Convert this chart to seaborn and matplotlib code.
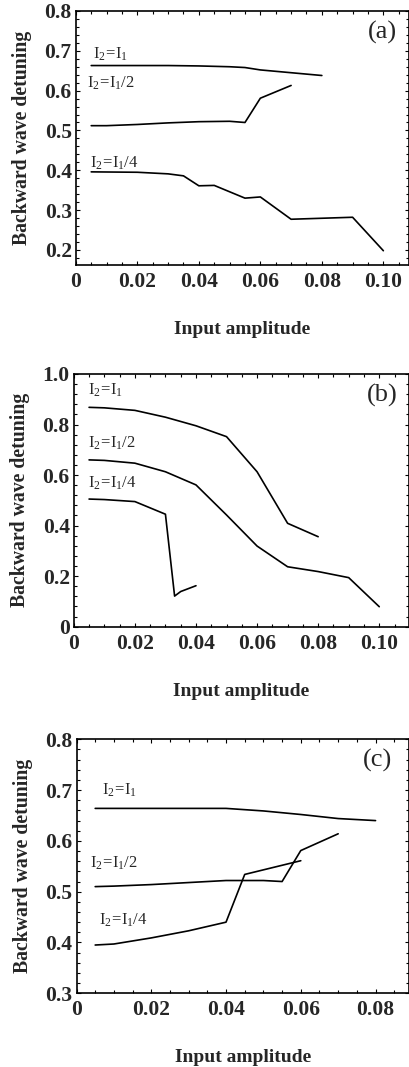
import numpy as np
import pandas as pd
import matplotlib
matplotlib.use("Agg")
import matplotlib.pyplot as plt
from matplotlib.ticker import MultipleLocator
import seaborn as sns

sns.set_style("ticks")
plt.rcParams['font.family'] = ['Liberation Serif', 'DejaVu Serif']
plt.rcParams['mathtext.fontset'] = 'custom'
plt.rcParams['mathtext.rm'] = 'Liberation Serif'
plt.rcParams['mathtext.it'] = 'Liberation Serif:italic'

# ---------------- data ----------------
# panel (a)
a_x1 = [0.005, 0.01, 0.02, 0.03, 0.04, 0.05, 0.055, 0.06, 0.07, 0.08]
a_y1 = [0.663, 0.663, 0.663, 0.663, 0.662, 0.660, 0.658, 0.652, 0.645, 0.638]
a_x2 = [0.005, 0.01, 0.02, 0.03, 0.04, 0.05, 0.055, 0.06, 0.07]
a_y2 = [0.512, 0.512, 0.515, 0.519, 0.522, 0.523, 0.520, 0.581, 0.613]
a_x4 = [0.005, 0.02, 0.03, 0.035, 0.04, 0.045, 0.055, 0.06, 0.07, 0.09, 0.10]
a_y4 = [0.396, 0.395, 0.391, 0.386, 0.361, 0.362, 0.330, 0.333, 0.277, 0.282, 0.198]

# panel (b)
b_x1 = [0.005, 0.01, 0.02, 0.03, 0.04, 0.05, 0.06, 0.07, 0.08]
b_y1 = [0.868, 0.866, 0.856, 0.829, 0.795, 0.752, 0.613, 0.409, 0.356]
b_x2 = [0.005, 0.01, 0.02, 0.03, 0.04, 0.05, 0.06, 0.07, 0.08, 0.09, 0.10]
b_y2 = [0.660, 0.658, 0.647, 0.613, 0.561, 0.442, 0.319, 0.237, 0.218, 0.194, 0.079]
b_x4 = [0.005, 0.01, 0.02, 0.03, 0.033, 0.035, 0.04]
b_y4 = [0.505, 0.503, 0.495, 0.445, 0.121, 0.139, 0.162]

# panel (c)
c_x1 = [0.005, 0.01, 0.02, 0.03, 0.04, 0.05, 0.06, 0.07, 0.08]
c_y1 = [0.664, 0.664, 0.664, 0.664, 0.664, 0.659, 0.652, 0.644, 0.640]
c_x2 = [0.005, 0.01, 0.02, 0.03, 0.04, 0.05, 0.055, 0.06, 0.07]
c_y2 = [0.510, 0.511, 0.514, 0.518, 0.522, 0.522, 0.520, 0.581, 0.614]
c_x4 = [0.005, 0.01, 0.02, 0.03, 0.04, 0.045, 0.05, 0.06]
c_y4 = [0.395, 0.397, 0.409, 0.423, 0.440, 0.534, 0.543, 0.561]

series_names = ["I1", "I1/2", "I1/4"]
label_texts = [r"$\mathregular{I_2\!=\!I_1}$", r"$\mathregular{I_2\!=\!I_1/2}$",
               r"$\mathregular{I_2\!=\!I_1/4}$"]
panel_tags = ["(a)", "(b)", "(c)"]

x_ticks = [0, 0.02, 0.04, 0.06, 0.08, 0.10]
x_ticklabels = ["0", "0.02", "0.04", "0.06", "0.08", "0.10"]
xc_ticks = [0, 0.02, 0.04, 0.06, 0.08]
xc_ticklabels = ["0", "0.02", "0.04", "0.06", "0.08"]
ya_ticks = [0.2, 0.3, 0.4, 0.5, 0.6, 0.7, 0.8]
yb_ticks = [0, 0.2, 0.4, 0.6, 0.8, 1.0]
yb_ticklabels = ["0", "0.2", "0.4", "0.6", "0.8", "1.0"]
yc_ticks = [0.3, 0.4, 0.5, 0.6, 0.7, 0.8]


def make_df(xs_list, ys_list):
    frames = []
    for name, xs, ys in zip(series_names, xs_list, ys_list):
        frames.append(pd.DataFrame({"x": xs, "y": ys, "s": name}))
    return pd.concat(frames, ignore_index=True)


fig = plt.figure(figsize=(4.10, 10.67), dpi=100)
ax_a = fig.add_axes([0.185, 0.7516, 0.813, 0.2381])
ax_b = fig.add_axes([0.180, 0.4127, 0.818, 0.2368])
ax_c = fig.add_axes([0.1866, 0.0691, 0.8114, 0.2380])

panels = [
    (ax_a, make_df([a_x1, a_x2, a_x4], [a_y1, a_y2, a_y4]), (0, 0.1084), (0.162, 0.8),
     x_ticks, x_ticklabels, ya_ticks, [f"{v:.1f}" for v in ya_ticks], 0.005, 0.02,
     [(0.0055, 0.690), (0.0036, 0.618), (0.0045, 0.418)], (0.0997, 0.745)),
    (ax_b, make_df([b_x1, b_x2, b_x4], [b_y1, b_y2, b_y4]), (0, 0.1098), (0, 1.0),
     x_ticks, x_ticklabels, yb_ticks, yb_ticklabels, 0.005, 0.04,
     [(0.0046, 0.937), (0.0046, 0.727), (0.0046, 0.568)], (0.101, 0.917)),
    (ax_c, make_df([c_x1, c_x2, c_x4], [c_y1, c_y2, c_y4]), (0, 0.089), (0.3, 0.8),
     xc_ticks, xc_ticklabels, yc_ticks, [f"{v:.1f}" for v in yc_ticks], 0.005, 0.02,
     [(0.0068, 0.700), (0.0037, 0.556), (0.006, 0.444)], (0.0805, 0.759)),
]

for i, (ax, df, xl, yl, xt, xtl, yt, ytl, xmin, ymin, lpos, tpos) in enumerate(panels):
    sns.lineplot(data=df, x="x", y="y", units="s", estimator=None, sort=False,
                 color="black", lw=1.2, ax=ax, legend=False)
    ax.set_xlim(*xl)
    ax.set_ylim(*yl)
    ax.set_xticks(xt)
    ax.set_xticklabels(xtl, fontsize=15.5, fontweight="bold")
    ax.set_yticks(yt)
    ax.set_yticklabels(ytl, fontsize=15.5, fontweight="bold")
    ax.xaxis.set_minor_locator(MultipleLocator(xmin))
    ax.yaxis.set_minor_locator(MultipleLocator(ymin))
    ax.tick_params(which="both", direction="in", top=True, right=True,
                   width=0.8, color="black")
    ax.tick_params(which="major", length=3)
    ax.tick_params(axis="x", which="major", pad=5)
    ax.tick_params(axis="y", which="major", pad=3)
    ax.tick_params(which="minor", length=2)
    for sp in ax.spines.values():
        sp.set_linewidth(1.2)
        sp.set_color("black")
    ax.set_xlabel("Input amplitude", fontsize=14, fontweight="bold", labelpad=21)
    ax.set_ylabel("Backward wave detuning", fontsize=14.2, fontweight="bold", labelpad=9)
    for (lx, ly), txt in zip(lpos, label_texts):
        ax.text(lx, ly, txt, fontsize=12, va="center", ha="left")
    ax.text(tpos[0], tpos[1], panel_tags[i], fontsize=19, va="center", ha="center")

fig.savefig("out.png", dpi=100)
